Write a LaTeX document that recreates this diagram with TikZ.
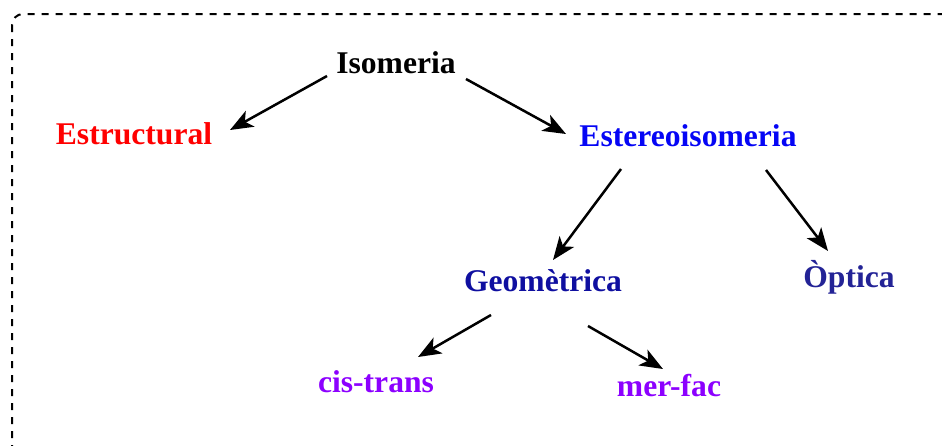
\documentclass[tikz,border=0pt]{standalone}
\usepackage{fontspec}
\setmainfont{Liberation Serif}
\usetikzlibrary{arrows.meta}
\definecolor{cstruct}{RGB}{255,0,0}
\definecolor{cstereo}{RGB}{5,5,245}
\definecolor{cgeom}{RGB}{15,15,160}
\definecolor{copt}{RGB}{35,35,150}
\definecolor{cpurp}{RGB}{140,0,255}
\tikzset{
  lbl/.style={anchor=base, inner sep=0pt, font=\fontsize{31.6}{37}\selectfont\bfseries},
  arr/.style={line width=2.5pt, -{Stealth[length=23pt,width=18pt,inset=6pt]}},
  frame/.style={line width=2pt, dash pattern=on 7pt off 7pt, rounded corners=11pt}
}
\begin{document}
\begin{tikzpicture}[x=1pt,y=-1pt]
\useasboundingbox (0,0) rectangle (942,445);
\draw[frame] (12,14) rectangle (975,475);
\node[lbl] (iso) at (396,73) {Isomeria};
\node[lbl, text=cstruct] (estr) at (134,144) {Estructural};
\node[lbl, text=cstereo] (ster) at (688,146) {Estereoisomeria};
\node[lbl, text=cgeom] (geo) at (543,291) {Geomètrica};
\node[lbl, text=copt] (opt) at (849,287) {Òptica};
\node[lbl, text=cpurp] (cis) at (376,392) {cis-trans};
\node[lbl, text=cpurp] (mer) at (669,396) {mer-fac};
\coordinate (iso-l) at (327,76);
\coordinate (estr-in) at (230,130);
\coordinate (iso-r) at (466,79);
\coordinate (ster-in) at (566,134);
\coordinate (ster-l) at (621,169);
\coordinate (geo-in) at (553,260);
\coordinate (ster-r) at (766,170);
\coordinate (opt-in) at (828,251);
\coordinate (geo-l) at (491,315);
\coordinate (cis-in) at (418,357);
\coordinate (geo-r) at (588,326);
\coordinate (mer-in) at (663,369);
\draw[arr] (iso-l) -- (estr-in);
\draw[arr] (iso-r) -- (ster-in);
\draw[arr] (ster-l) -- (geo-in);
\draw[arr] (ster-r) -- (opt-in);
\draw[arr] (geo-l) -- (cis-in);
\draw[arr] (geo-r) -- (mer-in);
\end{tikzpicture}
\end{document}
